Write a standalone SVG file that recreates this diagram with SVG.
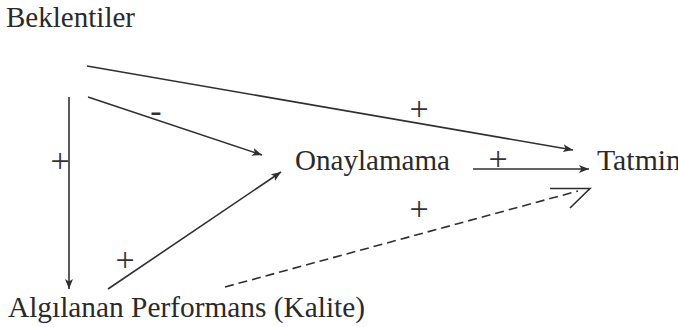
<svg xmlns="http://www.w3.org/2000/svg" width="678" height="327" viewBox="0 0 678 327">
<style>
.t{font-family:'Liberation Serif','Times New Roman','DejaVu Serif',serif;font-size:29px;fill:#2a2a2a}
.s{font-family:'Liberation Serif','Times New Roman','DejaVu Serif',serif;font-size:34px;fill:#333333;text-anchor:middle}
.c{stroke:#2f2f2f;stroke-width:1.6;fill:none}
.d{stroke-dasharray:9 5}
</style>
<defs>
<marker id="ah" viewBox="0 0 10 8" refX="10" refY="4" markerWidth="10" markerHeight="8" markerUnits="userSpaceOnUse" orient="auto">
<path d="M0,0 L10,4 L0,8 L2.5,4 Z" fill="#2f2f2f"/>
</marker>
</defs>
<rect width="678" height="327" fill="#ffffff"/>
<g id="beklentiler"><text class="t" x="6" y="27" textLength="129" lengthAdjust="spacingAndGlyphs">Beklentiler</text></g>
<g id="onaylamama"><text class="t" x="295" y="170" textLength="155" lengthAdjust="spacingAndGlyphs">Onaylamama</text></g>
<g id="tatmin"><text class="t" x="597" y="170" textLength="84" lengthAdjust="spacingAndGlyphs">Tatmin</text></g>
<g id="algilanan"><text class="t" x="8" y="317" textLength="357" lengthAdjust="spacingAndGlyphs">Algılanan Performans (Kalite)</text></g>
<g id="connectors">
<line class="c" x1="87" y1="66" x2="573" y2="150" marker-end="url(#ah)"/>
<line class="c" x1="88" y1="97" x2="262" y2="155" marker-end="url(#ah)"/>
<line class="c" x1="69" y1="97" x2="69" y2="289" marker-end="url(#ah)"/>
<line class="c" x1="108" y1="289" x2="281" y2="172" marker-end="url(#ah)"/>
<line class="c" x1="473" y1="169" x2="589" y2="169" marker-end="url(#ah)"/>
<line class="c d" x1="225" y1="287" x2="578" y2="191"/>
<polyline class="c" points="550,188.5 590,188.5 570,208" stroke-width="2"/>
<text class="s" x="419" y="120">+</text>
<text class="s" x="156" y="122">-</text>
<text class="s" x="60" y="172">+</text>
<text class="s" x="498" y="170">+</text>
<text class="s" x="419" y="220">+</text>
<text class="s" x="125" y="271">+</text>
</g>
</svg>
